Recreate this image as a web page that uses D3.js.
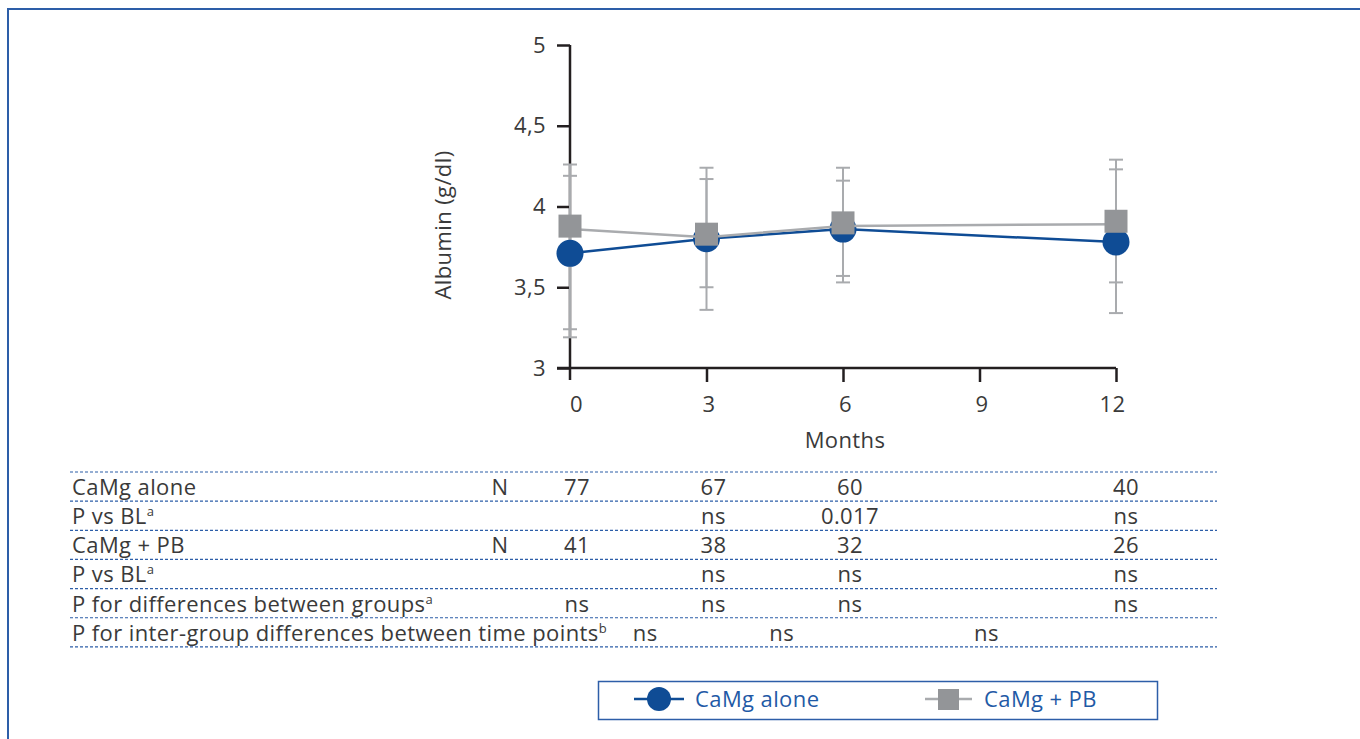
<!DOCTYPE html>
<html><head><meta charset="utf-8">
<script src="https://cdn.jsdelivr.net/npm/d3@7"></script>
<style>
body{margin:0;background:#fff;}
text{font-family:"Open Sans","Noto Sans",sans-serif;letter-spacing:0.4px;}
</style></head>
<body><svg id="c" width="1360" height="739"></svg>
<script>
// ---- data ----
const months = [0, 3, 6, 12];
const xTicks = [0, 3, 6, 9, 12];
const yTicks = [3, 3.5, 4, 4.5, 5];
const yTickLabels = ["3", "3,5", "4", "4,5", "5"];
const camgAlone = [3.71, 3.80, 3.86, 3.78];
const camgAloneUpper = [4.19, 4.17, 4.16, 4.23];
const camgAloneLower = [3.19, 3.50, 3.57, 3.34];
const camgPB = [3.86, 3.81, 3.88, 3.89];
const camgPBUpper = [4.26, 4.24, 4.24, 4.29];
const camgPBLower = [3.24, 3.36, 3.53, 3.53];
const seriesNames = ["CaMg alone", "CaMg + PB"];
const tableLabels = ["CaMg alone", "P vs BL", "CaMg + PB", "P vs BL", "P for differences between groups", "P for inter-group differences between time points"];
const tableSup = ["", "a", "", "a", "a", "b"];
const tableN = ["N", "", "N", "", "", ""];
const nAlone = ["77", "67", "60", "40"];
const pAlone = ["", "ns", "0.017", "ns"];
const nPB = ["41", "38", "32", "26"];
const pPB = ["", "ns", "ns", "ns"];
const pGroups = ["ns", "ns", "ns", "ns"];
const pInterGroup = ["ns", "ns", "ns"];
const interGroupMid = [1.5, 4.5, 9];

const blue = "#0f4c95", gray = "#939598", lgray = "#a9abae", frame = "#2d5ea8", txt = "#3a3a3a";
const FS = 22, FW = 400;
const svg = d3.select("#c");

// outer frame
svg.append("path").attr("d", "M8,739 L8,9 L1360,9").attr("fill", "none").attr("stroke", frame).attr("stroke-width", 2);

const x = d3.scaleLinear().domain([0, 12]).range([570, 1116]);
const y = d3.scaleLinear().domain([3, 5]).range([368, 45]);

// axes
const yAxis = svg.append("g").attr("transform", "translate(570,0)")
  .call(d3.axisLeft(y).tickValues(yTicks).tickFormat((d,i)=>yTickLabels[i]).tickSize(13).tickSizeOuter(0));
yAxis.select(".domain").attr("d", "M0,45V380").attr("stroke", "#231f20").attr("stroke-width", 2.5);
yAxis.selectAll(".tick line").attr("stroke", "#231f20").attr("stroke-width", 2.5);
yAxis.selectAll(".tick text").attr("x", -24).attr("font-size", FS).attr("fill", txt).attr("font-weight", FW);

const xAxis = svg.append("g").attr("transform", "translate(0,368)")
  .call(d3.axisBottom(x).tickValues(xTicks).tickSize(14).tickSizeOuter(0));
xAxis.select(".domain").attr("d", "M557,0H1116").attr("stroke", "#231f20").attr("stroke-width", 2.5);
xAxis.selectAll(".tick line").attr("stroke", "#231f20").attr("stroke-width", 2.5);
xAxis.selectAll(".tick").filter(d => d === 0).select("line").remove();
xAxis.selectAll(".tick text").attr("y", 28).attr("dx", d => d === 12 ? -4 : (d === 0 ? 6 : 2)).attr("font-size", FS).attr("fill", txt).attr("font-weight", FW);

svg.append("text").attr("x", 845).attr("y", 448).attr("text-anchor", "middle").attr("font-size", FS).attr("fill", txt).attr("font-weight", FW).text("Months");
svg.append("text").attr("transform", "translate(451,225) rotate(-90)").attr("text-anchor", "middle").attr("font-size", FS).attr("fill", txt).attr("font-weight", FW).text("Albumin (g/dl)");

// error bars
const capW = 12;
function errBars(up, lo) {
  const g = svg.append("g").attr("stroke", lgray).attr("stroke-width", 2);
  months.forEach((m, i) => {
    g.append("line").attr("x1", x(m)).attr("x2", x(m)).attr("y1", y(up[i])).attr("y2", y(lo[i]));
    [up[i], lo[i]].forEach(v => g.append("line").attr("x1", x(m) - capW/2 - 1).attr("x2", x(m) + capW/2 + 1).attr("y1", y(v)).attr("y2", y(v)));
  });
}
errBars(camgPBUpper, camgPBLower);
errBars(camgAloneUpper, camgAloneLower);

// lines & markers
const line = d3.line().x((d, i) => x(months[i])).y(d => y(d));
svg.append("path").datum(camgAlone).attr("d", line).attr("fill", "none").attr("stroke", blue).attr("stroke-width", 2.5);
svg.selectAll("circle.a").data(camgAlone).join("circle").attr("class", "a")
  .attr("cx", (d, i) => x(months[i])).attr("cy", d => y(d)).attr("r", 13.5).attr("fill", blue);
svg.append("path").datum(camgPB).attr("d", line).attr("fill", "none").attr("stroke", lgray).attr("stroke-width", 2.5);
const sq = 23;
svg.selectAll("rect.b").data(camgPB).join("rect").attr("class", "b")
  .attr("x", (d, i) => x(months[i]) - sq/2).attr("y", d => y(d) - sq/2 - 3).attr("width", sq).attr("height", sq).attr("fill", gray);

// table
const rowY0 = 472, rowH = 29.15;
const dash = svg.append("g").attr("stroke", frame).attr("stroke-width", 1.2).attr("stroke-dasharray", "3,2");
for (let r = 0; r <= tableLabels.length; r++) {
  dash.append("line").attr("x1", 70).attr("x2", 1217).attr("y1", rowY0 + r*rowH).attr("y2", rowY0 + r*rowH);
}
const tg = svg.append("g").attr("font-size", FS).attr("fill", txt).attr("font-weight", FW);
tableLabels.forEach((lab, r) => {
  const ty = rowY0 + r*rowH + 23;
  const t = tg.append("text").attr("x", 72).attr("y", ty);
  t.append("tspan").text(lab);
  if (tableSup[r]) t.append("tspan").attr("font-size", 13).attr("dy", -8).text(tableSup[r]);
  if (tableN[r]) tg.append("text").attr("x", 500).attr("y", ty).attr("text-anchor", "middle").text(tableN[r]);
});
const colX = m => x(m) + 7 + (m === 12 ? 3 : 0);
[nAlone, pAlone, nPB, pPB, pGroups].forEach((row, r) => {
  const ty = rowY0 + r*rowH + 23;
  row.forEach((v, i) => { if (v) tg.append("text").attr("x", colX(months[i])).attr("y", ty).attr("text-anchor", "middle").text(v); });
});
pInterGroup.forEach((v, i) => {
  tg.append("text").attr("x", x(interGroupMid[i]) + 7).attr("y", rowY0 + 5*rowH + 23).attr("text-anchor", "middle").text(v);
});

// legend
const lg = svg.append("g");
lg.append("rect").attr("x", 598.5).attr("y", 681.5).attr("width", 559).attr("height", 38).attr("fill", "none").attr("stroke", frame).attr("stroke-width", 1.5);
lg.append("line").attr("x1", 634).attr("x2", 684).attr("y1", 699).attr("y2", 699).attr("stroke", blue).attr("stroke-width", 2.5);
lg.append("circle").attr("cx", 659).attr("cy", 699).attr("r", 12).attr("fill", blue);
lg.append("text").attr("x", 695).attr("y", 707).attr("font-size", FS).attr("fill", "#1f5aa6").attr("font-weight", FW).text(seriesNames[0]);
lg.append("line").attr("x1", 925).attr("x2", 972).attr("y1", 699).attr("y2", 699).attr("stroke", lgray).attr("stroke-width", 2.5);
lg.append("rect").attr("x", 938).attr("y", 689).attr("width", 21).attr("height", 21).attr("fill", gray);
lg.append("text").attr("x", 984).attr("y", 707).attr("font-size", FS).attr("fill", "#1f5aa6").attr("font-weight", FW).text(seriesNames[1]);
</script></body></html>
